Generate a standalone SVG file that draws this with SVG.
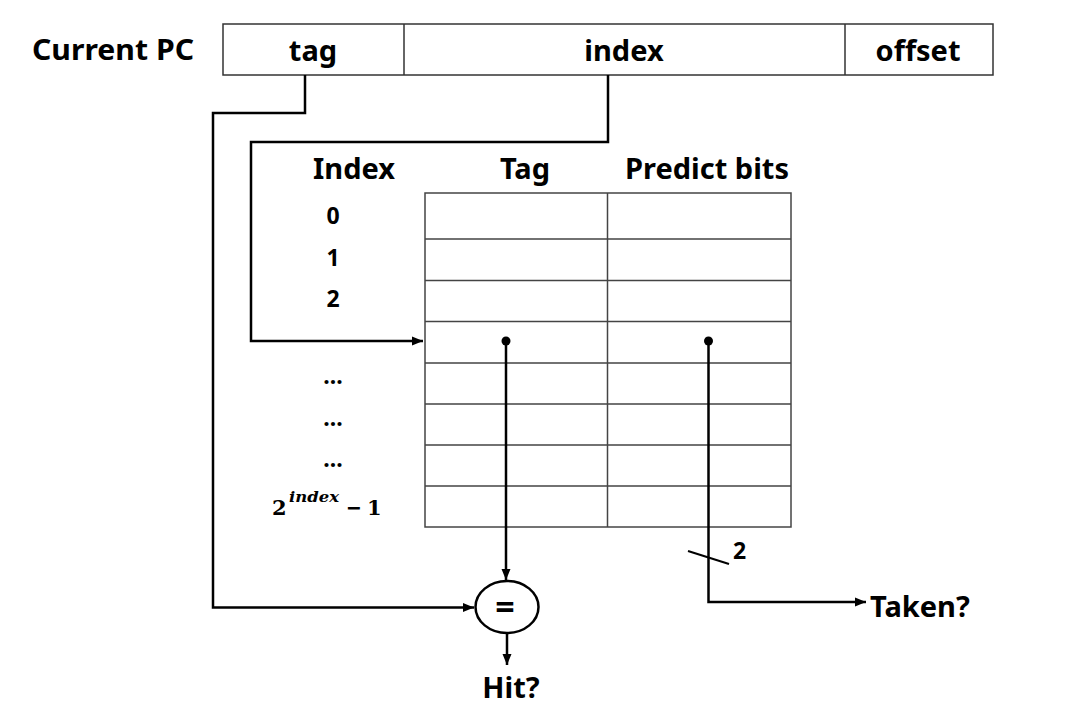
<svg xmlns="http://www.w3.org/2000/svg" width="1088" height="716" viewBox="0 0 1088 716">
<style>
.lbl{font-family:"Noto Sans","Liberation Sans",sans-serif;font-weight:700;fill:#000}
.big{font-size:29px}
.sm{font-size:23px}
.box{fill:#fff;stroke:#333;stroke-width:1.5}
.grid{fill:none;stroke:#444;stroke-width:1.5}
.wire{fill:none;stroke:#000;stroke-width:2.5}
.math{font-family:"DejaVu Serif","Liberation Serif",serif;font-weight:700;fill:#000;font-size:21px}
</style>
<defs>
<marker id="arr" markerUnits="userSpaceOnUse" markerWidth="12" markerHeight="10" refX="11" refY="5" orient="auto">
<path d="M0,0.5 L11,5 L0,9.5 Z" fill="#000"/>
</marker>
</defs>
<rect width="1088" height="716" fill="#fff"/>

<g id="current-pc">
<text class="lbl big" x="32" y="60" textLength="162" lengthAdjust="spacingAndGlyphs">Current PC</text>
<rect class="box" x="223" y="24" width="770" height="51"/>
<line class="box" x1="404" y1="24" x2="404" y2="75"/>
<line class="box" x1="845" y1="24" x2="845" y2="75"/>
<text class="lbl big" x="313" y="61" text-anchor="middle">tag</text>
<text class="lbl big" x="624" y="61" text-anchor="middle">index</text>
<text class="lbl big" x="918" y="61" text-anchor="middle">offset</text>
</g>

<g id="table">
<text class="lbl big" x="354" y="179" text-anchor="middle">Index</text>
<text class="lbl big" x="525" y="179" text-anchor="middle">Tag</text>
<text class="lbl big" x="707" y="179" text-anchor="middle">Predict bits</text>
<rect class="grid" x="425" y="193" width="366" height="334"/>
<line class="grid" x1="607.5" y1="193" x2="607.5" y2="527"/>
<path class="grid" d="M425,239 H791 M425,280.5 H791 M425,321.5 H791 M425,363 H791 M425,404 H791 M425,445 H791 M425,486 H791"/>
<text class="lbl sm" x="333" y="224" text-anchor="middle">0</text>
<text class="lbl sm" x="333" y="266" text-anchor="middle">1</text>
<text class="lbl sm" x="333" y="307" text-anchor="middle">2</text>
<text class="lbl sm" x="333" y="384" text-anchor="middle">...</text>
<text class="lbl sm" x="333" y="426" text-anchor="middle">...</text>
<text class="lbl sm" x="333" y="467" text-anchor="middle">...</text>
<text class="math" x="272" y="515">2</text>
<text class="math" x="289" y="502" style="font-size:15px;font-style:italic" textLength="50" lengthAdjust="spacingAndGlyphs">index</text>
<text class="math" x="346" y="515" textLength="16" lengthAdjust="spacingAndGlyphs">−</text>
<text class="math" x="367" y="515">1</text>
</g>

<g id="comparator">
<ellipse cx="507" cy="607" rx="31.5" ry="26" fill="#fff" stroke="#000" stroke-width="2.5"/>
<text class="lbl" x="505" y="619" style="font-size:34px" text-anchor="middle">=</text>
</g>

<g id="hit">
<text class="lbl big" x="511" y="698" text-anchor="middle">Hit?</text>
</g>

<g id="taken">
<text class="lbl big" x="870" y="617">Taken?</text>
</g>

<g id="connectors">
<path class="wire" d="M305,75 V113 H213 V607.5 H474" marker-end="url(#arr)"/>
<path class="wire" d="M608,75 V142 H251 V341 H423" marker-end="url(#arr)"/>
<circle cx="506" cy="341" r="4.5" fill="#000"/>
<path class="wire" d="M506,341 V580" marker-end="url(#arr)"/>
<path class="wire" d="M507,633 V665" marker-end="url(#arr)"/>
<circle cx="708.5" cy="341" r="4.5" fill="#000"/>
<path class="wire" d="M708.5,341 V602 H866" marker-end="url(#arr)"/>
<line x1="688" y1="551" x2="729" y2="564" stroke="#000" stroke-width="2"/>
<text class="lbl" x="733" y="559" style="font-size:23px">2</text>
</g>
</svg>
